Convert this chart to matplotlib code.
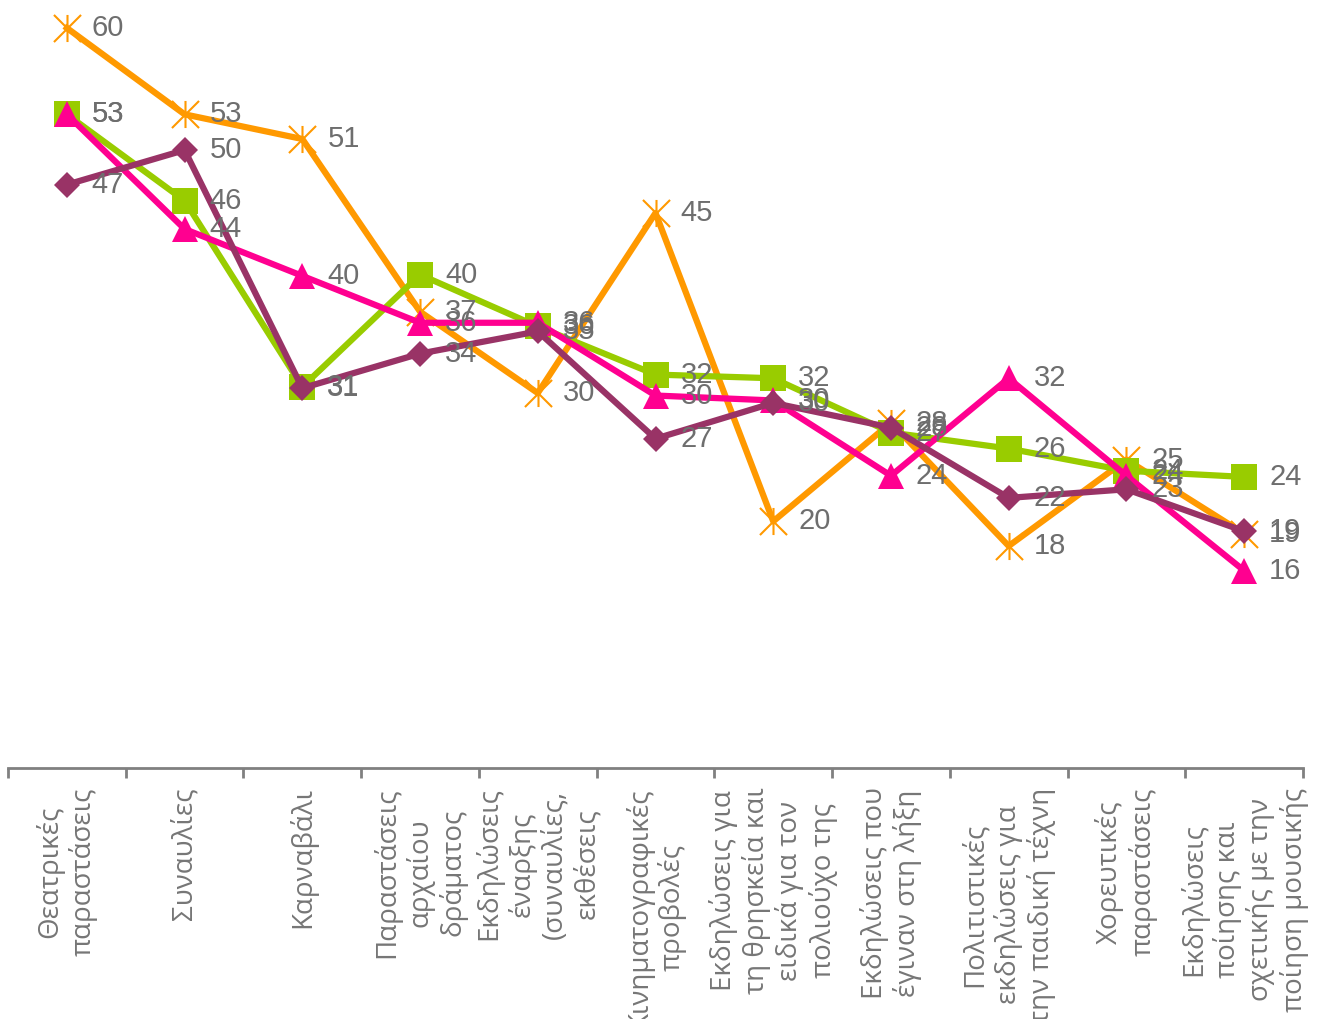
import matplotlib
matplotlib.use("Agg")
import matplotlib.pyplot as plt
from matplotlib.path import Path

categories = [
    "Θεατρικές\nπαραστάσεις",
    "Συναυλίες",
    "Καρναβάλι",
    "Παραστάσεις\nαρχαίου\nδράματος",
    "Εκδηλώσεις\nέναρξης\n(συναυλίες,\nεκθέσεις",
    "Κινηματογραφικές\nπροβολές",
    "Εκδηλώσεις για\nτη θρησκεία και\nειδικά για τον\nπολιούχο της",
    "Εκδηλώσεις που\nέγιναν στη λήξη",
    "Πολιτιστικές\nεκδηλώσεις για\nτην παιδική τέχνη",
    "Χορευτικές\nπαραστάσεις",
    "Εκδηλώσεις\nποίησης και\nσχετικής με την\nποίηση μουσικής",
]

orange_vals = [60, 53, 51, 37, 30.4, 45, 20, 28, 18, 25, 19]
green_vals = [53, 46, 30.9, 40, 35.8, 31.9, 31.6, 27.2, 25.9, 24.1, 23.6]
magenta_vals = [53, 43.7, 39.9, 36.1, 36.1, 30.2, 29.8, 23.7, 31.6, 23.7, 16]
purple_vals = [47.3, 50.1, 30.8, 33.6, 35.4, 26.7, 29.6, 27.6, 21.9, 22.6, 19.2]

# asterisk marker: X plus vertical stroke
asterisk = Path(
    [(-1, -1), (1, 1), (-1, 1), (1, -1), (0, -1), (0, 1)],
    [Path.MOVETO, Path.LINETO, Path.MOVETO, Path.LINETO, Path.MOVETO, Path.LINETO],
)

series = [
    (orange_vals, "#FF9900", asterisk, 19.5),
    (green_vals, "#99CC00", "s", 19),
    (magenta_vals, "#FF0090", "^", 19),
    (purple_vals, "#993366", "D", 13.5),
]

fig = plt.figure(figsize=(13.27, 10.19), dpi=100)
ax = fig.add_axes([8 / 1327, 1 - 768 / 1019, (1303 - 8) / 1327, (768 - 28) / 1019])

x = list(range(len(categories)))
for vals, color, marker, ms in series:
    if marker is asterisk:
        ax.plot(x, vals, color=color, lw=4.5, marker=marker, ms=ms,
                mec=color, mew=1.5, mfc="none", clip_on=False, zorder=3)
    else:
        ax.plot(x, vals, color=color, lw=4.5, marker=marker, ms=ms,
                mec=color, mfc=color, mew=0, clip_on=False, zorder=3)

for vals, color, marker, ms in series:
    for xi, v in zip(x, vals):
        ax.annotate(f"{round(v)}", (xi, v), xytext=(18, 0), textcoords="offset points",
                    ha="left", va="center", fontsize=21, color="#6E6E6E",
                    family="Liberation Sans", zorder=5)

ax.set_xlim(-0.5, len(categories) - 0.5)
ax.set_ylim(0, 60)

for s in ["top", "right", "left"]:
    ax.spines[s].set_visible(False)
ax.spines["bottom"].set_color("#808080")
ax.spines["bottom"].set_linewidth(2)
ax.set_yticks([])

ax.set_xticks(x)
ax.set_xticklabels(categories, rotation=90, ha="center", va="top",
                   multialignment="center", fontsize=20, color="#767676",
                   family="Open Sans")
ax.set_xticks([i - 0.5 for i in range(len(categories) + 1)], minor=True)
ax.tick_params(axis="x", which="major", length=0, pad=14)
ax.tick_params(axis="x", which="minor", length=7, width=2, color="#808080")

fig.savefig("out.png", dpi=100)
